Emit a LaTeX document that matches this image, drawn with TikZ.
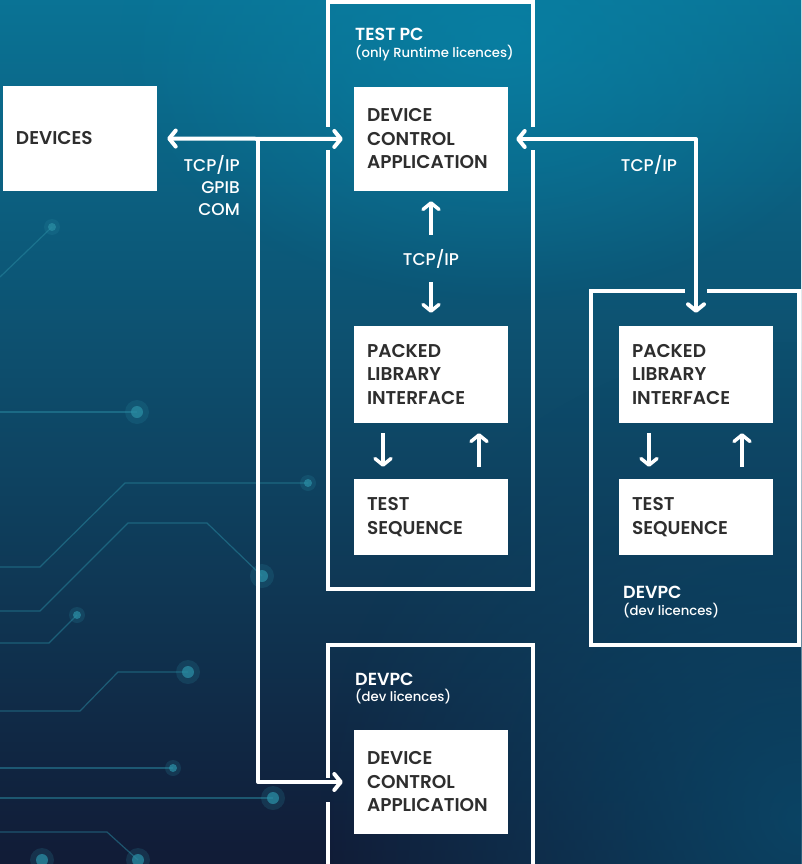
\documentclass[tikz,border=0pt]{standalone}
\usepackage{fontspec}
\setmainfont{Poppins}
\newfontfamily\boxfont{Poppins SemiBold}
\newfontfamily\labfont{Poppins Medium}
\usetikzlibrary{arrows.meta}
\usetikzlibrary{positioning}
\usetikzlibrary{fadings}
\tikzfading[name=softglow, inner color=transparent!0, outer color=transparent!100]
\definecolor{bgtop}{HTML}{0A7395}
\definecolor{bgmid}{HTML}{0B4C6C}
\definecolor{bgbot}{HTML}{111B36}
\definecolor{bgglow}{HTML}{0A4768}
\definecolor{bgshine}{HTML}{0884A8}
\definecolor{boxgray}{HTML}{2E2E2E}
\definecolor{trace}{HTML}{2A8CA3}

\begin{document}
\begin{tikzpicture}[x=1pt,y=-1pt,
  box/.style={fill=white,text=boxgray,font=\boxfont\fontsize{18.5}{23.5}\selectfont,
    align=left,text width=128pt,inner xsep=13pt,inner ysep=0pt,minimum width=154pt},
  frame/.style={white,line width=4pt},
  link/.style={white,line width=4pt,line join=round},
  small/.style={white,line width=3.5pt},
  tip/.style={arrows={-Straight Barb[round,length=6.5pt,width=16pt]}},
  tips/.style={arrows={Straight Barb[round,length=6.5pt,width=16pt]-Straight Barb[round,length=6.5pt,width=16pt]}},
  title/.style={text=white,font=\boxfont\fontsize{17.5}{20}\selectfont,anchor=base west,inner sep=0pt},
  sub/.style={text=white,font=\labfont\fontsize{13.2}{16}\selectfont,anchor=base west,inner sep=0pt},
  lbl/.style={text=white,font=\labfont\fontsize{17}{22}\selectfont,inner sep=0pt},
  trc/.style={trace,line width=1.2pt,opacity=0.5},
  dot/.style={fill=trace,opacity=0.75}]

% background
\useasboundingbox (0,0) rectangle (801,864);
\shade[top color=bgtop,middle color=bgmid,bottom color=bgbot] (0,0) rectangle (801,864);
\fill[bgshine,opacity=0.7,path fading=softglow] (500,40) ellipse (380 and 260);
\fill[bgglow,opacity=0.9,path fading=softglow] (801,820) ellipse (480 and 480);

% circuit traces
\draw[trc] (0,277) -- (52,227);
\draw[trc] (0,412) -- (137,412);
\draw[trc] (0,567) -- (40,567) -- (125,483) -- (308,483);
\draw[trc] (0,611) -- (40,611) -- (128,523) -- (207,523) -- (262,576);
\draw[trc] (0,643) -- (49,643) -- (77,615);
\draw[trc] (0,711) -- (80,711) -- (118,672) -- (188,672);
\draw[trc] (0,768) -- (173,768);
\draw[trc] (0,798) -- (273,798);
\draw[trc] (0,832) -- (107,832) -- (138,860);
\foreach \px/\py/\r in {52/227/4,137/412/6,308/483/4,262/576/6,77/615/4,188/672/6,173/768/4,273/798/6,138/860/6,42/860/6}{
  \fill[trace,opacity=0.2] (\px,\py) circle (\r*2);
  \fill[dot] (\px,\py) circle (\r);
}

% frames
\draw[frame] (328,127) -- (328,2) -- (533,2) -- (533,127);
\draw[frame] (533,150) -- (533,589) -- (328,589) -- (328,150);
\draw[frame] (685,291) -- (591,291) -- (591,645) -- (799,645) -- (799,291) -- (707,291);
\draw[frame] (328,778) -- (328,645) -- (533,645) -- (533,870);
\draw[frame] (328,802) -- (328,870);

\node[title] (tpcname) at (355,41) {TEST PC};
\node[sub] (tpclic) at (355,58) {(only Runtime licences)};
\node[title] (devname) at (623,598) {DEVPC};
\node[sub] (devlic) at (623,615) {(dev licences)};
\node[title] (devname2) at (355,685) {DEVPC};
\node[sub] (devlic2) at (355,701) {(dev licences)};

% boxes
\node[box,minimum height=105pt] (devices) at (80,138.5) {DEVICES};
\node[box,minimum height=104pt] (dca1) at (431,139) {DEVICE\\CONTROL\\APPLICATION};
\node[box,minimum height=97pt] (pli1) at (431,374.5) {PACKED\\LIBRARY\\INTERFACE};
\node[box,minimum height=76pt] (ts1) at (431,517) {TEST\\SEQUENCE};
\node[box,minimum height=97pt] (pli2) at (696,374.5) {PACKED\\LIBRARY\\INTERFACE};
\node[box,minimum height=76pt] (ts2) at (696,517) {TEST\\SEQUENCE};
\node[box,minimum height=104pt] (dca2) at (431,782) {DEVICE\\CONTROL\\APPLICATION};

% labels
\node[lbl,align=right,anchor=north east] (bus) at (240,155) {TCP/IP\\GPIB\\COM};
\node[lbl,minimum height=47pt] (tcp1) at (431,258.5) {TCP/IP};
\node[lbl] (tcp2) at (649,165) {TCP/IP};

% connectors
\coordinate (tap) at (258,140);
\draw[link,tips,shorten <=10pt,shorten >=11pt] (devices.east) -- (dca1.west);
\draw[link,tip,shorten >=11pt] (tap) |- (dca2.west);
\draw[link,tips,shorten <=8pt,shorten >=13pt] (dca1.east) -| (pli2.north);
\draw[small,tip,shorten >=10pt] (tcp1) -- (dca1);
\draw[small,tip,shorten >=13pt] (tcp1) -- (pli1);
\draw[small,tip,shorten <=10pt,shorten >=12pt] ([xshift=-48pt]pli1.south) -- ([xshift=-48pt]ts1.north);
\draw[small,tip,shorten <=12pt,shorten >=10pt] ([xshift=48pt]ts1.north) -- ([xshift=48pt]pli1.south);
\draw[small,tip,shorten <=10pt,shorten >=12pt] ([xshift=-47pt]pli2.south) -- ([xshift=-47pt]ts2.north);
\draw[small,tip,shorten <=12pt,shorten >=10pt] ([xshift=46pt]ts2.north) -- ([xshift=46pt]pli2.south);

\end{tikzpicture}
\end{document}
